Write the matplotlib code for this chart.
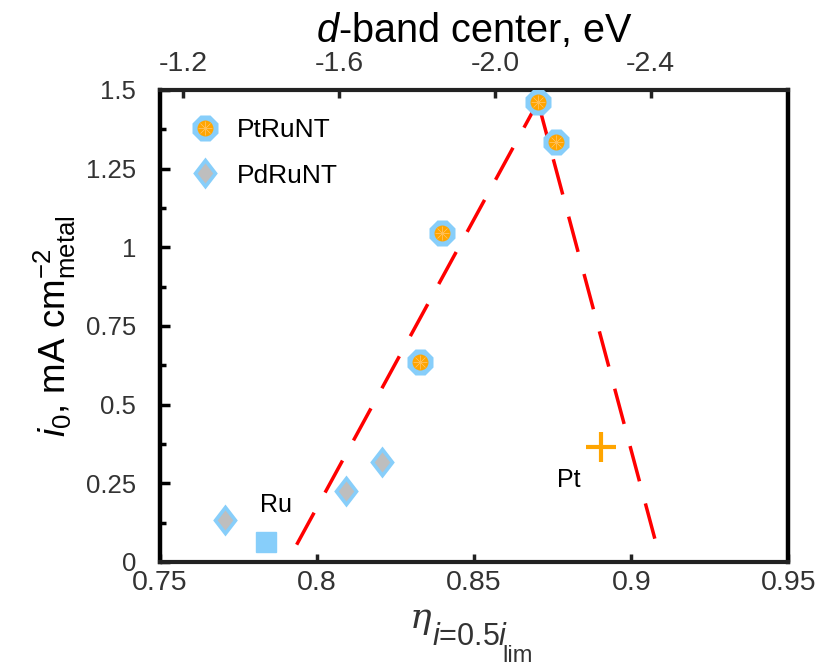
import matplotlib
matplotlib.use("Agg")
import matplotlib.pyplot as plt
from matplotlib.lines import Line2D
from matplotlib.legend_handler import HandlerTuple
from matplotlib.path import Path
from matplotlib.ticker import FixedLocator, MultipleLocator

plt.rcParams["font.family"] = ["Liberation Sans", "DejaVu Sans"]
plt.rcParams["mathtext.fontset"] = "custom"
plt.rcParams["mathtext.rm"] = "Liberation Sans"
plt.rcParams["mathtext.it"] = "Liberation Sans:italic"
plt.rcParams["mathtext.bf"] = "Liberation Sans:bold"
plt.rcParams["axes.unicode_minus"] = False

# Exchange current density vs. half-limiting-current overpotential
ptru_eta = [0.8326, 0.8399, 0.8703, 0.8761]
ptru_i0 = [0.637, 1.045, 1.462, 1.334]
pdru_eta = [0.7708, 0.8092, 0.8207]
pdru_i0 = [0.134, 0.226, 0.318]
ru_eta, ru_i0 = [0.7836], [0.064]
pt_eta, pt_i0 = [0.8902], [0.366]

# Volcano guide lines (left and right branches)
left_eta = [0.7935, 0.8703]
left_i0 = [0.055, 1.462]
right_eta = [0.8703, 0.9080]
right_i0 = [1.462, 0.055]

x_ticks = [0.75, 0.80, 0.85, 0.90, 0.95]
x_labels = ["0.75", "0.8", "0.85", "0.9", "0.95"]
y_ticks = [0, 0.25, 0.5, 0.75, 1.0, 1.25, 1.5]
y_labels = ["0", "0.25", "0.5", "0.75", "1", "1.25", "1.5"]
dband_ticks = [-1.2, -1.6, -2.0, -2.4]
dband_labels = ["-1.2", "-1.6", "-2.0", "-2.4"]

SKY = "#87CEFA"
ORANGE = "#FFA500"
GRAY = "#BEBEBE"
STAR = "#FFBE55"
TXT = "#333333"

W, H = 817, 670

# tall rhombus marker
rhombus = Path([(0, 1), (0.77, 0), (0, -1), (-0.77, 0), (0, 1)],
               [Path.MOVETO, Path.LINETO, Path.LINETO, Path.LINETO, Path.CLOSEPOLY])

fig = plt.figure(figsize=(W / 100, H / 100), dpi=100)
ax = fig.add_axes([0.1958, 0.1612, 0.965 - 0.1958, 0.8657 - 0.1612])

dash = (0, (10.5, 6.6))
ax.plot(left_eta, left_i0, color="red", lw=2.5, ls=dash,
        dash_capstyle="butt", zorder=2)
ax.plot(right_eta, right_i0, color="red", lw=2.5, ls=dash,
        dash_capstyle="butt", zorder=2)

# PtRuNT: orange disc in a light-blue octagon
ax.plot(ptru_eta, ptru_i0, ls="", marker="8", ms=19.5, mfc=SKY, mec="none", zorder=4)
ax.plot(ptru_eta, ptru_i0, ls="", marker="o", ms=11.5, mfc=ORANGE, mec="none", zorder=5)
ax.plot(ptru_eta, ptru_i0, ls="", marker=(8, 2, 0), ms=10, mec=STAR, mew=0.35, zorder=6)

# PdRuNT: gray rhombus in a light-blue rhombus
ax.plot(pdru_eta, pdru_i0, ls="", marker=rhombus, ms=23, mfc=SKY, mec="none", zorder=4)
ax.plot(pdru_eta, pdru_i0, ls="", marker=rhombus, ms=14.5, mfc=GRAY, mec="none", zorder=5)

# Ru and Pt references
ax.plot(ru_eta, ru_i0, ls="", marker="s", ms=14, mfc=SKY, mec=SKY, mew=1.0,
        zorder=4)
ax.plot(pt_eta, pt_i0, ls="", marker="+", ms=21, mec=ORANGE, mew=3.0, zorder=4)

ax.text(0.7868, 0.18, "Ru", fontsize=18, ha="center", va="center")
ax.text(0.8802, 0.261, "Pt", fontsize=18, ha="center", va="center")

ax.set_xlim(0.75, 0.95)
ax.set_ylim(0, 1.5)
ax.xaxis.set_major_locator(FixedLocator(x_ticks))
ax.set_xticklabels(x_labels)
ax.yaxis.set_major_locator(FixedLocator(y_ticks))
ax.set_yticklabels(y_labels)
ax.yaxis.set_minor_locator(MultipleLocator(0.125))

ax.tick_params(axis="x", which="both", direction="in", top=False, bottom=True,
               length=6, width=2.5, labelsize=20.5, pad=6, colors="#222222",
               labelcolor=TXT)
ax.tick_params(axis="y", which="major", direction="in", left=True, right=False,
               length=7, width=2.5, labelsize=18.5, pad=17, colors="black",
               labelcolor=TXT)
ax.tick_params(axis="y", which="minor", direction="in", left=True, right=False,
               length=4, width=2.5)

for side in ("left", "right"):
    ax.spines[side].set_linewidth(3.2)
    ax.spines[side].set_color("black")
for side in ("top", "bottom"):
    ax.spines[side].set_linewidth(3.0)
    ax.spines[side].set_color("#222222")

ax.set_ylabel(r"$i_0$, mA cm$^{-2}_{\mathrm{metal}}$", fontsize=26.5, labelpad=6)

# x label: eta with a two-level subscript
fig.text(410 / W, 1 - 628 / H, "\u03b7", family="DejaVu Serif", style="italic",
         fontsize=26, color=TXT, ha="left", va="baseline")
fig.text(432 / W, 1 - 645 / H, r"$i$=0.5$i$", fontsize=22, color=TXT,
         ha="left", va="baseline")
fig.text(502 / W, 1 - 662 / H, "lim", fontsize=17, color=TXT,
         ha="left", va="baseline")

# d-band center scale on top
top = ax.twiny()
top.set_xlim(-1.1406, -2.7535)
top.xaxis.set_major_locator(FixedLocator(dband_ticks))
top.set_xticklabels(dband_labels)
top.tick_params(axis="x", direction="in", length=6, width=2.5, labelsize=20.5, pad=9,
                colors="#222222", labelcolor=TXT)
for s in top.spines.values():
    s.set_visible(False)
top.set_xlabel(r"$d$-band center, eV", fontsize=28.5, labelpad=7)

h_ptru = (Line2D([], [], ls="", marker="8", ms=19.5, mfc=SKY, mec="none"),
          Line2D([], [], ls="", marker="o", ms=11.5, mfc=ORANGE, mec="none"),
          Line2D([], [], ls="", marker=(8, 2, 0), ms=10, mec=STAR, mew=0.35))
h_pdru = (Line2D([], [], ls="", marker=rhombus, ms=23, mfc=SKY, mec="none"),
          Line2D([], [], ls="", marker=rhombus, ms=14.5, mfc=GRAY, mec="none"))
ax.legend([h_ptru, h_pdru], ["PtRuNT", "PdRuNT"],
          handler_map={tuple: HandlerTuple(ndivide=1, pad=0)},
          loc="upper left", bbox_to_anchor=(0.03, 0.962), frameon=False,
          fontsize=19, handlelength=1.2, handletextpad=0.6, labelspacing=0.8,
          borderaxespad=0)

fig.savefig("out.png", dpi=100)
